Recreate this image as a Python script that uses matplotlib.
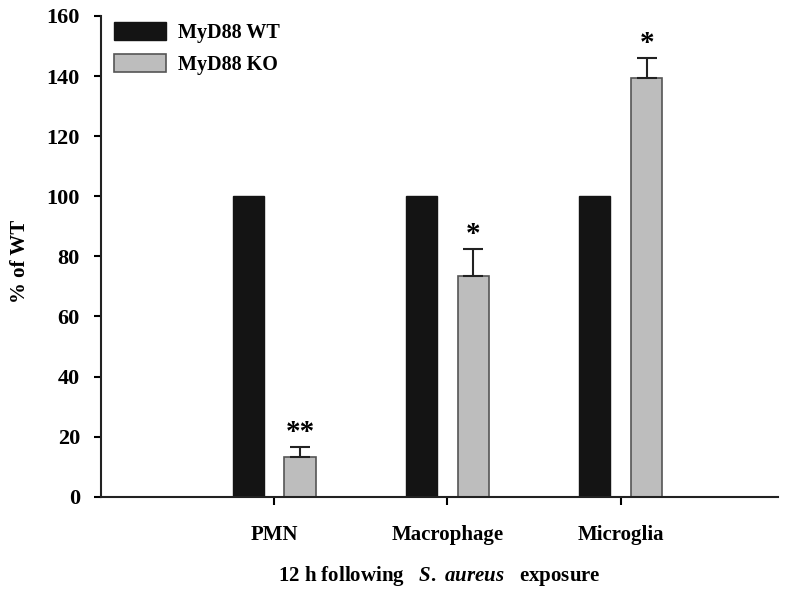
import matplotlib
matplotlib.use("Agg")
import matplotlib.pyplot as plt
import numpy as np

categories = ["PMN", "Macrophage", "Microglia"]
wt_values = [100, 100, 100]
ko_values = [13.3, 73.5, 139.5]
ko_errors = [3.3, 9.0, 6.5]
ko_marks = ["**", "*", "*"]

plt.rcParams["font.family"] = ["Liberation Serif", "DejaVu Serif"]
plt.rcParams["font.weight"] = "bold"
plt.rcParams["mathtext.fontset"] = "custom"
plt.rcParams["mathtext.rm"] = "Liberation Serif:bold"
plt.rcParams["mathtext.it"] = "Liberation Serif:italic:bold"

fig = plt.figure(figsize=(8, 5.9), dpi=100)
ax = fig.add_axes([0.126, 0.158, 0.847, 0.815])

x = np.arange(len(categories))
width = 0.18
off = 0.15
ax.bar(x - off, wt_values, width, color="#141414", edgecolor="#141414", label="MyD88 WT")
ax.bar(x + off, ko_values, width, color="#bdbdbd", edgecolor="#555555", linewidth=1.2,
       label="MyD88 KO")
ax.errorbar(x + off, ko_values, yerr=[[0] * 3, ko_errors], fmt="none", ecolor="#222222",
            elinewidth=1.5, capsize=7, capthick=1.5)
for xi, v, e, m in zip(x, ko_values, ko_errors, ko_marks):
    ax.text(xi + off, v + e + 0.3, m, ha="center", va="bottom", fontsize=21,
            fontweight="bold")

ax.set_xlim(-1.0, 2.91)
ax.set_ylim(0, 160)
ax.set_yticks(range(0, 161, 20))
ax.set_xticks(x)
ax.set_xticklabels(categories)
for s in ["top", "right"]:
    ax.spines[s].set_visible(False)
for s in ["left", "bottom"]:
    ax.spines[s].set_linewidth(1.5)
    ax.spines[s].set_color("#222222")
ax.tick_params(axis="y", direction="out", length=5, width=1.5, pad=10, labelsize=16)
ax.tick_params(axis="x", direction="out", length=6, width=1.5, pad=14, labelsize=15)

ax.set_ylabel("% of WT", fontsize=15, fontweight="bold")
ax.yaxis.set_label_coords(-0.104, 0.49)
ax.set_xlabel(r"12 h following   $\it{S.\ aureus}$   exposure", fontsize=15,
              fontweight="bold")
ax.xaxis.set_label_coords(0.5, -0.14)

leg = ax.legend(loc="upper left", bbox_to_anchor=(-0.008, 1.025), frameon=False, fontsize=14.5,
                handlelength=2.6, handleheight=1.0, handletextpad=0.6, labelspacing=0.55)

fig.savefig("out.png", dpi=100)
